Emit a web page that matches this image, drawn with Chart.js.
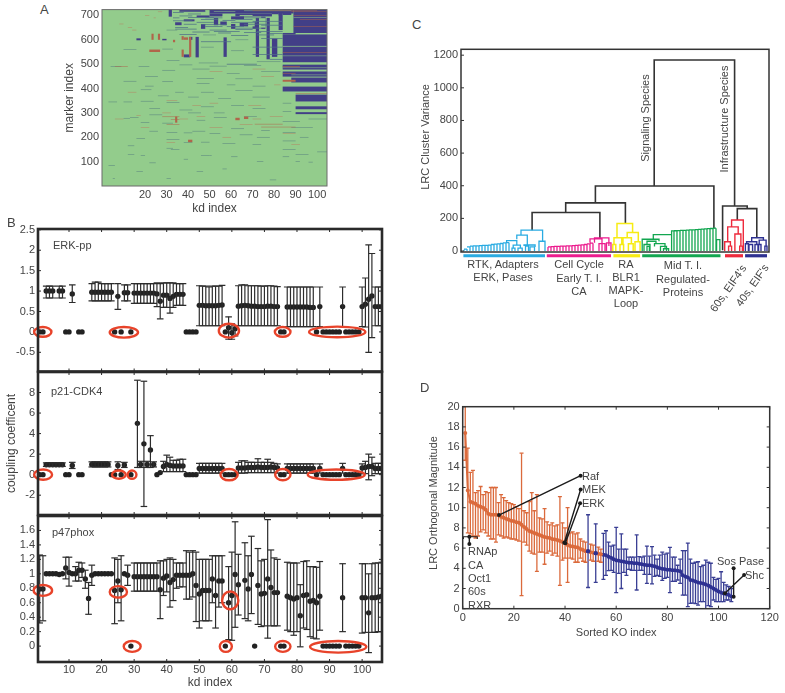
<!DOCTYPE html>
<html>
<head>
<meta charset="utf-8">
<title>Coupling figure</title>
<script src="https://cdn.jsdelivr.net/npm/chart.js@4"></script>
<style>
    html, body { margin: 0; padding: 0; background: #fff; }
    #page { position: relative; width: 785px; height: 693px; overflow: hidden; font-family: "Liberation Sans", Arial, sans-serif; color: #444; }
    canvas { position: absolute; }
    .txt { position: absolute; white-space: nowrap; font-size: 11px; line-height: 14px; transform: translate(0, -50%); }
    .mid { transform: translate(-50%, -50%); text-align: center; }
    .up { transform: translate(-50%, -50%) rotate(-90deg); }
    .slant { transform: translate(-50%, -50%) rotate(-55deg); }
</style>
</head>
<body>
<div id="page"></div>
<script>
// ===== Panel A: heat map blocks, [x1, x2, y1, y2] =====
const aXTicks = [20, 30, 40, 50, 60, 70, 80, 90, 100];
const aYTicks = [100, 200, 300, 400, 500, 600, 700];
const heatNavy = [
    [89, 105, 628, 725], [84, 105, 508, 622], [84, 105, 478, 498], [84, 105, 449, 470],
    [88, 105, 425, 445], [84, 105, 388, 408], [90, 105, 347, 375], [90, 105, 315, 327],
    [90, 105, 295, 303], [84, 90, 622, 628], [50, 89, 708, 725], [62, 79, 696, 708],
    [82, 84, 640, 712], [71.5, 73, 530, 690], [76.5, 78, 520, 690], [79, 81.5, 530, 605],
    [43.5, 45, 528, 612], [56.5, 58, 530, 610], [40.5, 42, 600, 612], [60, 66, 684, 696],
    [50, 56, 696, 708], [44, 50, 692, 700], [38, 43, 676, 684], [34, 37, 660, 672],
    [31, 32.5, 695, 725], [36, 48, 714, 722], [46, 48, 645, 665], [52, 54, 660, 690],
    [64, 68, 655, 670], [70, 72, 645, 675], [60, 62, 645, 665], [55, 58, 660, 675],
    [74, 76, 645, 695], [84, 88, 702, 725], [79, 82, 705, 725], [16, 18, 598, 606],
    [28, 30, 598, 604], [38, 41, 528, 540]
];
const heatLight = [
    [79.2, 82, 632, 700], [84.2, 88.4, 632, 695], [89, 105, 690, 692], [84, 105, 572, 575],
    [84, 105, 533, 535], [88, 105, 455, 457], [92, 105, 415, 418], [84, 105, 484, 486],
    [64, 70, 698, 702], [73, 76, 650, 690], [68, 71, 655, 690], [44, 46, 650, 680],
    [56, 60, 690, 696], [52, 62, 716, 718], [66, 88, 718, 720], [36, 48, 717, 718]
];
const heatRed = [
    [84, 90, 428, 436], [88, 105, 714, 716], [89, 105, 700, 702], [92, 105, 683, 685],
    [89, 105, 654, 656], [84, 105, 548, 550], [90, 105, 378, 380], [84, 92, 488, 491],
    [84, 90, 460, 462], [70, 100, 718, 720], [37, 38, 530, 560], [37, 38, 600, 615],
    [40.5, 41.5, 530, 612], [38, 40, 600, 610], [23, 24, 600, 625], [26, 27, 600, 625],
    [33, 34, 590, 600], [30, 36, 252, 254], [32, 36, 272, 274], [62, 64, 270, 280],
    [34, 35, 260, 285], [28, 36, 283, 285], [74, 90, 241, 243], [71, 84, 253, 255],
    [66, 68, 275, 285], [22, 27, 550, 560], [40, 42, 180, 190], [6, 12, 490, 492]
];
// thin streaks, [x1, x2, y]
const streakBlue = [
    [3, 7, 345], [10, 14, 345], [18, 24, 348], [30, 36, 342], [46, 52, 325], [60, 66, 330],
    [40, 46, 300], [22, 28, 292], [13, 17, 282], [18, 22, 260], [28, 33, 258], [44, 48, 270],
    [52, 58, 282], [66, 72, 285], [42, 48, 225], [38, 42, 218], [38, 42, 178], [30, 33, 155],
    [12, 15, 130], [38, 40, 110], [46, 50, 125], [56, 58, 70], [3, 6, 85], [5, 6, 30],
    [78, 81, 25], [70, 74, 170], [64, 70, 210], [72, 78, 200], [84, 90, 185], [92, 96, 200],
    [84, 90, 150], [90, 96, 130], [100, 105, 140], [84, 92, 265], [88, 98, 240], [96, 105, 275],
    [36, 42, 497], [50, 58, 492], [66, 74, 495], [45, 54, 505], [72, 83, 510], [30, 36, 515],
    [17, 22, 490], [4, 9, 490], [28, 34, 475], [42, 50, 480], [58, 64, 462], [74, 83, 470],
    [20, 26, 450], [44, 52, 442], [62, 70, 440], [10, 16, 430], [28, 33, 428], [44, 50, 420],
    [58, 62, 415], [70, 76, 410], [18, 23, 395], [34, 38, 385], [46, 52, 385], [62, 70, 392],
    [20, 24, 410], [26, 31, 370], [40, 45, 365], [54, 60, 360], [70, 78, 365], [22, 27, 318],
    [36, 42, 312], [52, 57, 300], [70, 76, 318], [84, 88, 340], [84, 88, 305], [10, 13, 278],
    [60, 66, 235], [74, 78, 228], [84, 90, 220], [22, 26, 225], [30, 35, 220], [50, 55, 215],
    [16, 20, 195], [30, 36, 190], [46, 50, 180], [56, 62, 175], [12, 15, 165], [18, 20, 125],
    [50, 51, 125], [32, 36, 150], [22, 25, 95], [44, 47, 60], [16, 19, 60], [30, 32, 30],
    [60, 63, 120], [72, 75, 100], [90, 92, 100], [96, 98, 98], [84, 87, 120], [46, 52, 570],
    [60, 66, 555], [28, 33, 562], [10, 16, 560], [62, 68, 600], [47, 53, 620], [30, 35, 640]
];
const streakRed = [
    [12, 14, 650], [20, 22, 700], [26, 28, 715], [24, 25, 690], [8, 10, 665], [14, 16, 640],
    [50, 54, 340], [28, 32, 300], [36, 40, 275], [44, 48, 285], [70, 74, 275], [78, 84, 285],
    [6, 10, 275], [16, 18, 290], [50, 56, 240], [64, 70, 252], [84, 90, 215], [88, 92, 170],
    [30, 34, 178], [18, 22, 240], [56, 60, 200], [42, 46, 330], [68, 74, 330], [30, 35, 350],
    [74, 80, 450], [50, 56, 470], [80, 83, 415], [70, 76, 480], [12, 16, 385]
];
// dark rows of the busy upper area, [x1, x2, y]
const streakNavy = [
    [33, 38, 712], [40, 46, 706], [48, 56, 690], [36, 42, 698], [33, 36, 690], [34, 40, 650],
    [38, 44, 664], [44, 52, 672], [46, 54, 684], [56, 62, 680], [58, 66, 654], [62, 70, 642],
    [66, 74, 630], [72, 80, 620], [78, 84, 626], [50, 58, 640], [42, 50, 632], [36, 44, 622],
    [54, 60, 628], [60, 68, 618], [48, 56, 654], [66, 78, 664], [70, 84, 676], [62, 70, 684],
    [74, 84, 606], [58, 72, 500], [78, 84, 520], [70, 84, 540], [70, 84, 570], [46, 60, 592],
    [34, 44, 644], [46, 58, 662], [60, 72, 672], [62, 74, 648], [66, 76, 690], [72, 84, 634],
    [40, 52, 692], [52, 64, 634], [74, 84, 660], [33, 42, 678]
];

// ===== Panel B: x is the kd index 1..106 =====
const bXTicks = [10, 20, 30, 40, 50, 60, 70, 80, 90, 100];
const erkTicks = [-0.5, 0, 0.5, 1, 1.5, 2, 2.5];
const p21Ticks = [-2, 0, 2, 4, 6, 8];
const p47Ticks = [0, 0.2, 0.4, 0.6, 0.8, 1, 1.2, 1.4, 1.6];
const n = null;
const erkMean = [
    0, 0, 1, 1, 1, n, 1, 1, 0, 0,
    .93, n, 0, 0, n, n, .97, .97, .97, .97,
    .97, .97, .97, 0, .87, 0, .96, .96, 0, .95,
    .95, .95, .95, .95, .95, .95, .93, .75, .9, .9,
    .82, .87, .92, .92, .92, 0, 0, 0, 0, .65,
    .65, .64, .64, .64, .64, .65, .66, 0, .1, -.02,
    .08, .63, .64, .65, .64, .63, .63, .62, .62, .62,
    .63, .63, .62, .62, 0, 0, .61, .61, .61, .61,
    .61, .61, .61, .6, .6, 0, .62, 0, 0, 0,
    0, 0, 0, .62, 0, 0, 0, 0, 0, .62,
    .68, .8, .88, .62, .62, .62
];
const erkLow = [
    n, n, .83, .83, .83, n, .83, .83, n, n,
    .72, n, n, n, n, n, .76, .76, .76, .76,
    .76, .76, .76, n, .55, n, .76, .76, n, .7,
    .7, .7, .7, .7, .7, .7, .62, .32, .6, .6,
    .46, .6, .65, .65, .65, n, n, n, n, .15,
    .15, .15, .15, .15, .15, .15, .15, n, -.18, -.18,
    -.1, .15, .15, .15, .15, .15, .15, .15, .15, .15,
    .15, .15, .15, .15, n, n, .13, .13, .13, .13,
    .13, .13, .13, .13, .13, n, .13, n, n, n,
    n, n, n, .13, n, n, n, n, n, .13,
    .12, -.5, -.14, .15, .15, .15
];
const erkHigh = [
    n, n, 1.12, 1.12, 1.12, n, 1.12, 1.12, n, n,
    1.15, n, n, n, n, n, 1.18, 1.22, 1.22, 1.18,
    1.18, 1.18, 1.18, n, 1.18, n, 1.15, 1.15, n, 1.18,
    1.18, 1.18, 1.18, 1.18, 1.18, 1.18, 1.2, 1.18, 1.2, 1.2,
    1.2, 1.2, 1.18, 1.18, 1.18, n, n, n, n, 1.13,
    1.12, 1.12, 1.1, 1.12, 1.12, 1.12, 1.14, n, .37, .2,
    .15, 1.13, 1.15, 1.15, 1.13, 1.13, 1.13, 1.13, 1.12, 1.12,
    1.13, 1.13, 1.12, 1.11, n, n, 1.1, 1.1, 1.1, 1.1,
    1.1, 1.1, 1.1, 1.1, 1.1, n, 1.1, n, n, n,
    n, n, n, 1.1, n, n, n, n, n, 1.1,
    1.32, 2.13, 1.92, 1.1, 1.1, 1.1
];
const p21Mean = [
    0, 0, .97, .97, .97, .97, .97, .97, 0, 0,
    .9, n, 0, 0, n, n, 1, 1, 1, 1,
    1, 1, 0, 0, .9, 0, .95, n, 0, n,
    5, 1, 3, 1, 2.4, 1, 0, .2, .8, 1,
    .9, .85, .85, .85, .85, 0, 0, 0, 0, .6,
    .6, .6, .6, .6, .6, .6, .6, 0, 0, 0,
    0, .65, .65, .65, .7, .7, .7, .75, .7, .7,
    .7, .75, .7, .65, 0, 0, .6, .6, .6, .6,
    .6, .6, .6, .6, .6, 0, .6, 0, 0, 0,
    0, 0, 0, .6, 0, 0, 0, 0, 0, .65,
    .7, .8, .8, .6, .6, .6
];
const p21Low = [
    n, n, .8, .8, .8, .8, .8, .8, n, n,
    .6, n, n, n, n, n, .75, .75, .75, .75,
    .75, .75, n, n, .5, n, .7, n, n, n,
    .7, .7, -3.1, .7, .7, .75, n, n, .3, .3,
    .3, .3, .3, .3, .3, n, n, n, n, .15,
    .15, .15, .15, .15, .15, .15, .15, n, n, n,
    n, .15, .15, .15, .2, .2, .2, .2, .2, .2,
    .2, .2, .2, .15, n, n, .15, .15, .15, .15,
    .15, .15, .15, .15, .15, n, .15, n, n, n,
    n, n, n, .15, n, n, n, n, n, .1,
    .1, -.5, -.1, .1, .1, .1
];
const p21High = [
    n, n, 1.15, 1.15, 1.15, 1.15, 1.15, 1.15, n, n,
    1.2, n, n, n, n, n, 1.25, 1.25, 1.25, 1.25,
    1.25, 1.25, n, n, 1.25, n, 1.2, n, n, n,
    9.2, 1.3, 9.1, 1.3, 3.8, 1.25, n, n, 1.3, 1.9,
    1.7, 1.4, 1.4, 1.5, 1.5, n, n, n, n, 1.1,
    1.1, 1.1, 1.1, 1.1, 1.1, 1.1, 1.1, n, n, n,
    n, 1.2, 1.35, 1.35, 1.2, 1.2, 1.2, 1.55, 1.2, 1.2,
    1.5, 1.2, 1.1, 1.05, n, n, 1.05, 1.05, 1.05, 1.05,
    1.05, 1.05, 1.05, 1.05, 1.05, n, 1.05, n, n, n,
    n, n, n, 1.1, n, n, n, n, n, 1.05,
    1.3, 2, 1.7, 1.1, 1.1, 1.1
];
const p47Mean = [
    .79, .79, 1, 1, 1, 1, .99, 1, 1.08, 1.02,
    1, 1, 1.05, 1.05, .93, .66, .98, 1, 1, 1,
    1, 1, 1, .77, .9, .78, 1, .98, 0, .96,
    .96, .96, .96, .96, .96, .96, .96, .78, .94, .97,
    .88, .92, .98, .98, .98, .98, .98, 1, .84, .72,
    .77, .77, .77, .93, .7, .9, .9, 0, .6, .7,
    .99, .85, n, .91, .79, .99, 0, .84, .72, .73,
    .93, .81, .74, .74, 0, 0, .69, .67, .65, .67,
    .42, .7, .71, .62, .63, .6, .69, 0, 0, 0,
    0, 0, 0, .67, 0, 0, 0, 0, 0, .67,
    .67, .46, .67, .67, .68, .69
];
const p47Low = [
    .32, .35, n, n, n, n, n, n, .93, .83,
    n, .9, .9, .95, .8, .44, .84, n, n, n,
    n, n, n, .31, .6, .35, n, .84, n, .76,
    .76, .76, .76, .76, .76, .76, .76, .38, .7, .75,
    .54, .63, .8, .82, .82, .65, .65, .68, .34, .25,
    .35, .35, .35, .6, .25, .54, .6, n, .09, .08,
    .26, .43, n, .38, .35, .45, n, .3, .27, .28,
    .11, .28, .28, .28, n, n, .22, .2, .15, .2,
    -.01, .25, .23, .13, .11, .1, .22, n, n, n,
    n, n, n, .2, n, n, n, n, n, .18,
    .19, -.09, .19, .19, .2, .2
];
const p47High = [
    1.26, 1.25, n, n, n, n, n, n, 1.23, 1.23,
    n, 1.1, 1.16, 1.15, 1.05, .88, 1.12, n, n, n,
    n, n, n, 1.22, 1.2, 1.25, n, 1.12, n, 1.15,
    1.15, 1.15, 1.15, 1.15, 1.15, 1.15, 1.15, 1.18, 1.18, 1.2,
    1.22, 1.2, 1.15, 1.15, 1.15, 1.32, 1.3, 1.32, 1.3, 1.2,
    1.2, 1.2, 1.2, 1.25, 1.25, 1.25, 1.25, n, 1.1, 1.3,
    1.72, 1.27, n, 1.43, 1.25, 1.52, n, 1.35, 1.18, 1.2,
    1.75, 1.33, 1.22, 1.2, n, n, 1.16, 1.15, 1.15, 1.15,
    .85, 1.17, 1.18, 1.1, 1.1, 1.09, 1.17, n, n, n,
    n, n, n, 1.14, n, n, n, n, n, 1.14,
    1.14, 1, 1.14, 1.15, 1.15, 1.16
];
// red rings, [x1, x2, y1, y2]
const erkRings = [[-.7, 4.6, -.12, .12], [22.5, 31.2, -.14, .12], [56, 62.2, -.14, .2], [73.2, 78, -.12, .12], [83.7, 101, -.13, .13]];
const p21Rings = [[-.7, 4.8, -.5, .5], [23.2, 27.4, -.4, .4], [28, 30.7, -.4, .4], [56.5, 61.8, -.55, .55], [73.3, 78, -.55, .55], [83.3, 100.8, -.5, .5]];
const p47Rings = [[-.85, 4.8, .695, .845], [22.5, 27.8, .67, .83], [26.8, 32, -.08, .07], [56.3, 60, -.08, .07], [57, 62, .51, .755], [73.3, 78, -.08, .07], [84, 101.3, -.09, .07]];

// ===== Panel C: dendrogram merges, [xLeft, xRight, height, leftFoot, rightFoot] =====
const cYTicks = [0, 200, 400, 600, 800, 1000, 1200];
const blackNodes = [[64.4, 91.2, 1170, 398, 276], [44.8, 84.3, 398, 295, 138], [34.9, 54.8, 295, 236, 169], [23.7, 46.3, 236, 128, 80], [87.2, 95.4, 276, 4, 260], [92.1, 98.6, 260, 190, 81]];
const blueNodes = [[20, 27.2, 128, 97, 60], [18.6, 22.1, 97, 72, 36], [15.2, 18.6, 64, 52, 36], [17.4, 19.8, 36, 18, 18], [21, 24.7, 37, 30, 25], [26, 28, 60, 0, 0], [17, 18, 18, 0, 0], [19, 20.4, 18, 0, 0], [21.5, 22.5, 30, 0, 0], [23, 24.5, 25, 0, 0]];
const blueHeights = [8, 12, 26, 30, 32, 32, 33, 34, 35, 36, 40, 42, 44, 46, 50, 52];
const magentaNodes = [[44.5, 49.3, 80, 50, 30], [43, 47, 75, 50, 0], [46, 48, 45, 0, 0], [48.5, 50, 50, 0, 0]];
const magentaHeights = [24, 26, 27, 28, 29, 30, 30, 31, 32, 33, 34, 36, 38, 40, 44, 48];
const yellowNodes = [[52, 57.2, 169, 81, 114], [51, 53.6, 81, 40, 40], [55.4, 59.1, 114, 81, 57], [54, 56.8, 81, 40, 45], [58, 59.7, 57, 0, 0], [50.6, 51.6, 40, 0, 0], [53, 54.2, 40, 0, 0], [55.8, 57.4, 45, 0, 0]];
const greenNodes = [[64.1, 70.2, 100, 72, 0], [70.2, 72, 124, 0, 0], [60.4, 66, 72, 0, 60], [62, 65, 60, 40, 45], [61, 63, 40, 0, 0], [64.5, 68, 45, 28, 20], [66.5, 68.5, 28, 0, 0], [67.5, 69.2, 14, 0, 0], [62, 62.8, 28, 0, 0], [85.2, 86.3, 70, 0, 0]];
const greenHeights = [124, 125, 125, 126, 127, 128, 129, 130, 131, 133, 134, 136, 137, 138, 140];
const redNodes = [[90.2, 94.1, 190, 148, 0], [88.9, 92.4, 148, 57, 104], [87.9, 89.8, 57, 0, 30], [89.2, 90.2, 30, 0, 0], [91.3, 93.3, 104, 0, 30], [92.9, 93.8, 30, 0, 0]];
const navyNodes = [[96.9, 100.8, 81, 57, 67], [95.2, 98.6, 57, 45, 40], [94.8, 95.8, 45, 0, 0], [96, 97.2, 40, 0, 0], [98, 99.2, 40, 0, 0], [99.4, 101.7, 67, 40, 30], [99, 100, 40, 0, 0], [101.3, 102, 30, 0, 0]];
// coloured strips under the axis, [x1, x2]
const stripRanges = [[.8, 28], [28.6, 50], [50.8, 59.7], [60.4, 86.5], [88, 94], [94.7, 102]];

// ===== Panel D: x is the sorted KO index 1..105 =====
const dXTicks = [0, 20, 40, 60, 80, 100, 120];
const dYTicks = [0, 2, 4, 6, 8, 10, 12, 14, 16, 18, 20];
const koMean = [
    17.4, 11.7, 10.6, 10.5, 10.4, 10.2, 10.1, 10, 9.8, 9.4,
    9.3, 9.3, 9.3, 9.25, 9.1, 9, 8.9, 8.8, 8.7, 8.65,
    8.55, 8.5, 8.3, 8.1, 7.9, 7.7, 7.6, 7.5, 7.4, 7.3,
    7.2, 7.1, 7.05, 7, 6.9, 6.85, 6.8, 6.7, 6.6, 6.5,
    6.3, 6.2, 6.15, 6.1, 6.05, 5.9, 5.8, 5.7, 5.7, 5.6,
    5.55, 5.5, 5.45, 5.4, 5.35, 5.3, 5.15, 5.05, 4.9, 4.8,
    4.75, 4.7, 4.65, 4.6, 4.55, 4.55, 4.5, 4.5, 4.45, 4.4,
    4.35, 4.3, 4.3, 4.25, 4.2, 4.1, 4, 3.95, 3.9, 3.85,
    3.85, 3.8, 3.8, 3.75, 3.7, 3.3, 3.2, 3.1, 2.85, 2.8,
    2.7, 2.6, 2.55, 2.5, 2.4, 2.3, 2.15, 2, 1.85, 1.7,
    1.6, 1.5, 1.45, 1.35, 1.2
];
const koLow = [
    14.7, 7.5, 7.4, 7.2, 7, 7.2, 7.6, 7.8, 7.5, 7.2,
    6.9, 6.9, 6.6, 7.3, 7.2, 7, 7.1, 7, 6.9, 6.9,
    6.8, 6.7, 1.3, 6.6, 6.3, 5.7, 5.5, 5.4, 3.7, 5.6,
    5.6, 4.4, 5.5, 5.7, 5.3, 5.5, 5.2, 2.3, 4.8, 5,
    2.6, 5, 4.9, 4.6, 4.6, 5, 4.7, 4.6, 2.1, 4.8,
    4.7, 2.6, 4.7, 4.6, 2.9, 3.3, 3.76, 3.8, 3.6, 1.6,
    3.5, 2, 3.6, 3.3, 3.9, 3.8, 3.8, 1.85, 3.8, 3.8,
    3.4, 2.5, 3.4, 2.45, 3.2, 3.3, 3.2, 2.8, 3, 3.1,
    1.6, 2.7, 2.7, 2.84, 2.5, 1.35, 1.35, .2, .53, .55,
    .5, .36, .7, .7, 0, .3, .2, .86, .7, .7,
    .7, .7, .86, .86, .7
];
const koHigh = [
    20.5, 15.9, 13.5, 13.7, 11.5, 11.7, 12.1, 11.3, 11.6, 11.5,
    12, 12, 12, 10.5, 11.3, 11, 10.7, 10.5, 10.4, 10.3,
    10.1, 9.9, 15.4, 9.7, 9.5, 10.6, 11.5, 9.7, 11.3, 9,
    8.9, 9.9, 8.6, 8.3, 8.5, 8.2, 8.3, 11.1, 8.5, 8,
    10, 7.5, 7.6, 7.4, 7.5, 6.9, 6.7, 6.6, 9.3, 6.4,
    6.3, 8.4, 6.1, 5.9, 7.46, 7.72, 6.6, 6.2, 6.3, 8.05,
    5.9, 7.4, 5.9, 5.9, 5.1, 5.1, 5.1, 7.3, 5.15, 5.1,
    5.2, 6.2, 5.2, 6.15, 5.3, 4.9, 5.3, 5.6, 5.4, 5.5,
    6.07, 5.1, 5.1, 4.3, 4.9, 5.75, 5.75, 6.5, 4.9, 4.5,
    4.6, 4.65, 4.16, 4.3, 4.8, 4.6, 4.5, 3.1, 2.9, 3,
    3.66, 2.6, 2.35, 2.2, 2
];
const koBlueInOrange = [49, 52];
const firstBlueKo = 55;
// callout lines, [x1, y1, x2, y2]
const koCallouts = [
    [14.2, 9.27, 46.1, 13.17], [39.7, 6.53, 46.1, 11.8], [40.1, 6.47, 45.9, 10.43],
    [2.6, 7.13, 2.6, 6.4], [105.9, 4, 105.9, 1.19], [110, 3.33, 102.5, 1.52]
];
const koBracket = [[.3, 6.9], [.3, 7.13], [5.7, 7.13], [5.7, 6.9]];

// ===== Helpers =====
const page = document.getElementById('page');
const textColor = '#444';
const tickFont = { family: '"Liberation Sans", Arial, sans-serif', size: 11 };

// vertical error bars as one broken line plus caps
function errorBars(xs, lows, highs, color, width, capSize) {
    const stems = [], caps = [];
    xs.forEach((x, i) => {
        if (lows[i] === null || highs[i] === null) return;
        stems.push({ x: x, y: lows[i] }, { x: x, y: highs[i] }, { x: x, y: null });
        caps.push({ x: x, y: lows[i] }, { x: x, y: highs[i] });
    });
    return [
        { data: stems, showLine: true, borderColor: color, borderWidth: width, pointRadius: 0, spanGaps: false },
        { data: caps, pointStyle: 'line', pointRadius: capSize, pointBorderColor: color, pointBorderWidth: width, pointBackgroundColor: color }
    ];
}

// U shapes of a dendrogram, and the rising comb of leaves
function dendroLine(nodes, heights, firstLeaf, color, width) {
    const pts = [];
    nodes.forEach(m => {
        pts.push({ x: m[0], y: m[3] }, { x: m[0], y: m[2] }, { x: m[1], y: m[2] }, { x: m[1], y: m[4] }, { x: m[1], y: null });
    });
    heights.forEach((h, i) => {
        const x = firstLeaf + i;
        if (i > 0) pts.push({ x: x - 1, y: h }, { x: x, y: h }, { x: x, y: null });
        pts.push({ x: x, y: 0 }, { x: x, y: h }, { x: x, y: null });
    });
    return { data: pts, showLine: true, borderColor: color, borderWidth: width, pointRadius: 0, spanGaps: false };
}

function makeChart(box, datasets, xAxis, yAxis, frame, extraPlugins) {
    const canvas = document.createElement('canvas');
    const w = box.right - box.left, h = box.bottom - box.top;
    canvas.style.left = box.left + 'px';
    canvas.style.top = box.top + 'px';
    canvas.width = w;
    canvas.height = h;
    canvas.style.width = w + 'px';
    canvas.style.height = h + 'px';
    page.appendChild(canvas);

    function axis(spec, fit) {
        return {
            type: 'linear',
            min: spec.min,
            max: spec.max,
            grid: { display: false, drawTicks: false, tickLength: 0 },
            border: { display: false },
            afterBuildTicks: s => { s.ticks = spec.ticks.map(v => ({ value: v })); },
            afterFit: fit,
            ticks: {
                display: spec.labels !== false,
                autoSkip: false,
                maxRotation: 0,
                padding: spec.pad === undefined ? 3 : spec.pad,
                color: textColor,
                font: tickFont,
                callback: v => String(v)
            },
            title: spec.title ? {
                display: true, text: spec.title, color: textColor, padding: 0,
                font: { family: tickFont.family, size: spec.titleSize || 12 }
            } : { display: false }
        };
    }

    // frame and inward ticks on all four sides
    const boxPlugin = {
        id: 'boxFrame',
        afterDraw(chart) {
            const a = chart.chartArea, c = chart.ctx;
            c.save();
            c.strokeStyle = frame.color;
            c.lineWidth = frame.tickWidth;
            c.beginPath();
            chart.scales.x.ticks.forEach(t => {
                const p = chart.scales.x.getPixelForValue(t.value);
                c.moveTo(p, a.bottom); c.lineTo(p, a.bottom - frame.tick);
                if (frame.allSides) { c.moveTo(p, a.top); c.lineTo(p, a.top + frame.tick); }
            });
            chart.scales.y.ticks.forEach(t => {
                const p = chart.scales.y.getPixelForValue(t.value);
                c.moveTo(a.left, p); c.lineTo(a.left + frame.tick, p);
                if (frame.allSides) { c.moveTo(a.right, p); c.lineTo(a.right - frame.tick, p); }
            });
            if (frame.tick) c.stroke();
            c.lineWidth = frame.width;
            c.strokeRect(a.left, a.top, a.right - a.left, a.bottom - a.top);
            c.restore();
        }
    };

    return new Chart(canvas, {
        type: 'scatter',
        data: { datasets: datasets },
        options: {
            responsive: false,
            animation: false,
            events: [],
            layout: {
                autoPadding: false,
                padding: { top: box.plotTop - box.top, right: box.right - box.plotRight, left: 0, bottom: 0 }
            },
            plugins: { legend: { display: false }, tooltip: { enabled: false }, title: { display: false } },
            scales: {
                x: axis(xAxis, s => { s.height = box.bottom - box.plotBottom; }),
                y: axis(yAxis, s => { s.width = box.plotLeft - box.left; })
            }
        },
        plugins: [boxPlugin].concat(extraPlugins || [])
    });
}

function ringPlugin(rings) {
    return {
        id: 'rings',
        afterDatasetsDraw(chart) {
            const c = chart.ctx, sx = chart.scales.x, sy = chart.scales.y;
            c.save();
            c.strokeStyle = '#E8432A';
            c.lineWidth = 2.4;
            rings.forEach(r => {
                const x1 = sx.getPixelForValue(r[0]), x2 = sx.getPixelForValue(r[1]);
                const y1 = sy.getPixelForValue(r[2]), y2 = sy.getPixelForValue(r[3]);
                c.beginPath();
                c.ellipse((x1 + x2) / 2, (y1 + y2) / 2, Math.abs(x2 - x1) / 2, Math.abs(y2 - y1) / 2, 0, 0, Math.PI * 2);
                c.stroke();
            });
            c.restore();
        }
    };
}

function addText(text, x, y, cls, size) {
    const el = document.createElement('div');
    el.className = 'txt ' + (cls || '');
    el.textContent = text;
    el.style.left = x + 'px';
    el.style.top = y + 'px';
    if (size) el.style.fontSize = size + 'px';
    page.appendChild(el);
}

// ===== Panel A =====
const heatPlugin = {
    id: 'heat',
    beforeDatasetsDraw(chart) {
        const c = chart.ctx, sx = chart.scales.x, sy = chart.scales.y, a = chart.chartArea;
        const block = r => {
            const x1 = sx.getPixelForValue(r[0]), x2 = sx.getPixelForValue(r[1]);
            const y1 = sy.getPixelForValue(r[2]), y2 = sy.getPixelForValue(r[3]);
            c.fillRect(x1, y2, x2 - x1, y1 - y2);
        };
        c.save();
        c.beginPath();
        c.rect(a.left, a.top, a.right - a.left, a.bottom - a.top);
        c.clip();
        c.fillStyle = '#93CC8C';
        c.fillRect(a.left, a.top, a.right - a.left, a.bottom - a.top);
        c.fillStyle = '#423F87';
        heatNavy.forEach(block);
        c.fillStyle = '#93CC8C';
        heatLight.forEach(block);
        c.fillStyle = '#4F6F88';
        streakNavy.forEach(s => block([s[0], s[1], s[2] - 1.5, s[2] + 1.5]));
        c.fillStyle = '#5F8A80';
        streakBlue.forEach(s => block([s[0], s[1], s[2] - 1.2, s[2] + 1.2]));
        c.fillStyle = '#B0654A';
        heatRed.forEach(block);
        c.fillStyle = '#B08E68';
        streakRed.forEach(s => block([s[0], s[1], s[2] - 1.2, s[2] + 1.2]));
        c.restore();
    }
};
makeChart(
    { left: 62, top: 0, right: 345, bottom: 216, plotLeft: 102, plotTop: 7, plotRight: 327, plotBottom: 186 },
    [],
    { min: 0, max: 104.6, ticks: aXTicks, title: 'kd index', pad: 2 },
    { min: 0, max: 724, ticks: aYTicks, title: 'marker index', pad: 3 },
    { color: '#6b6b6b', width: 1, tick: 0, tickWidth: 0, allSides: false },
    [heatPlugin]
);

// ===== Panel B =====
const kdIndex = erkMean.map((v, i) => i + 1);
const bFrame = { color: '#2a2a2a', width: 2.6, tick: 3, tickWidth: 1, allSides: true };

function bSeries(mean, low, high) {
    const dots = kdIndex.map((x, i) => ({ x: x, y: mean[i] })).filter(p => p.y !== null);
    return errorBars(kdIndex, low, high, '#2c2c2c', 1.2, 3.3).concat([
        { data: dots, pointRadius: 2.7, pointBackgroundColor: '#222', pointBorderWidth: 0 }
    ]);
}

makeChart(
    { left: 4, top: 210, right: 400, bottom: 392, plotLeft: 38, plotTop: 229, plotRight: 382, plotBottom: 371.5 },
    bSeries(erkMean, erkLow, erkHigh),
    { min: .48, max: 106.1, ticks: bXTicks, labels: false },
    { min: -.97, max: 2.52, ticks: erkTicks, pad: 3 },
    bFrame, [ringPlugin(erkRings)]
);
makeChart(
    { left: 4, top: 352, right: 400, bottom: 535, plotLeft: 38, plotTop: 372, plotRight: 382, plotBottom: 515 },
    bSeries(p21Mean, p21Low, p21High),
    { min: .48, max: 106.1, ticks: bXTicks, labels: false },
    { min: -3.93, max: 10, ticks: p21Ticks, title: 'coupling coefficent', pad: 3 },
    bFrame, [ringPlugin(p21Rings)]
);
makeChart(
    { left: 4, top: 496, right: 400, bottom: 690, plotLeft: 38, plotTop: 516, plotRight: 382, plotBottom: 662 },
    bSeries(p47Mean, p47Low, p47High),
    { min: .48, max: 106.1, ticks: bXTicks, title: 'kd index', pad: 1 },
    { min: -.22, max: 1.8, ticks: p47Ticks, pad: 3 },
    bFrame, [ringPlugin(p47Rings)]
);

// ===== Panel C =====
const stripColors = ['#29ABE2', '#EC1C8E', '#F7EC13', '#12A650', '#EE2A3C', '#2E3192'];
const stripSets = stripRanges.map((r, i) => ({
    data: [{ x: r[0], y: -29 }, { x: r[1], y: -29 }],
    showLine: true, clip: false, borderColor: stripColors[i], borderWidth: 3.2, pointRadius: 0
}));
makeChart(
    { left: 430, top: 28, right: 785, bottom: 272, plotLeft: 461, plotTop: 49.3, plotRight: 769, plotBottom: 252 },
    [
        dendroLine(blueNodes, blueHeights, 1, '#29ABE2', 1.3),
        dendroLine(magentaNodes, magentaHeights, 29, '#EC1C8E', 1.3),
        dendroLine(yellowNodes, [], 0, '#F7EC13', 1.5),
        dendroLine(greenNodes, greenHeights, 71, '#12A650', 1.3),
        dendroLine(redNodes, [], 0, '#EE2A3C', 1.4),
        dendroLine(navyNodes, [], 0, '#2E3192', 1.4),
        dendroLine(blackNodes, [], 0, '#333', 1.6)
    ].concat(stripSets),
    { min: 0, max: 102.67, ticks: [], labels: false },
    { min: -6, max: 1236, ticks: cYTicks, pad: 3 },
    { color: '#333', width: 1.5, tick: 3, tickWidth: 1, allSides: false }
);

// ===== Panel D =====
const koIndex = koMean.map((v, i) => i + 1);
const isBlueKo = x => x >= firstBlueKo || koBlueInOrange.includes(x);
const koDots = koIndex.map((x, i) => ({ x: x, y: koMean[i] }));
const calloutPts = [];
const calloutEnds = [];
koCallouts.forEach(l => {
    calloutPts.push({ x: l[0], y: l[1] }, { x: l[2], y: l[3] }, { x: l[2], y: null });
    calloutEnds.push({ x: l[0], y: l[1] }, { x: l[2], y: l[3] });
});
makeChart(
    { left: 425, top: 388, right: 785, bottom: 640, plotLeft: 462.7, plotTop: 406.7, plotRight: 769.7, plotBottom: 608.7 },
    errorBars(koIndex, koLow.map((v, i) => isBlueKo(i + 1) ? null : v), koHigh, '#DB6A3C', 1.3, 2)
        .concat(errorBars(koIndex, koLow.map((v, i) => isBlueKo(i + 1) ? v : null), koHigh, '#3A3F94', 1.3, 2))
        .concat([
            { data: koDots.filter(p => p.x < firstBlueKo), showLine: true, borderColor: '#DB6A3C', borderWidth: 2, pointRadius: 2, pointBackgroundColor: '#DB6A3C', pointBorderWidth: 0, order: -1 },
            { data: koDots.filter(p => p.x >= firstBlueKo), showLine: true, borderColor: '#2E3192', borderWidth: 2, pointRadius: 2, pointBackgroundColor: '#2E3192', pointBorderWidth: 0, order: -1 },
            { data: koDots.filter(p => koBlueInOrange.includes(p.x)), pointRadius: 2.2, pointBackgroundColor: '#2E3192', pointBorderWidth: 0, order: -2 },
            { data: calloutPts, showLine: true, borderColor: '#1c1c1c', borderWidth: 1.4, pointRadius: 0, spanGaps: false, order: -3 },
            { data: calloutEnds, pointRadius: 2, pointBackgroundColor: '#1c1c1c', pointBorderWidth: 0, order: -3 },
            { data: koBracket.map(p => ({ x: p[0], y: p[1] })), showLine: true, borderColor: '#1c1c1c', borderWidth: 1.1, pointRadius: 0, order: -3 }
        ]),
    { min: 0, max: 120, ticks: dXTicks, title: 'Sorted KO index', titleSize: 11, pad: 3 },
    { min: 0, max: 20, ticks: dYTicks, pad: 3 },
    { color: '#333', width: 1.5, tick: 3, tickWidth: 1, allSides: true }
);

// ===== Labels =====
addText('A', 40, 10, '', 13);
addText('B', 7, 223, '', 13);
addText('C', 412, 25, '', 13);
addText('D', 420, 388, '', 13);

addText('ERK-pp', 53, 245);
addText('p21-CDK4', 51, 391);
addText('p47phox', 52, 532);

addText('LRC Cluster Variance', 425, 137, 'up');
addText('Signaling Species', 645, 118, 'up');
addText('Infrastructure Species', 724, 119, 'up');
addText('RTK, Adapters', 503, 264, 'mid');
addText('ERK, Pases', 503, 277, 'mid');
addText('Cell Cycle', 579, 264, 'mid');
addText('Early T. I.', 579, 278, 'mid');
addText('CA', 579, 291, 'mid');
addText('RA', 626, 264, 'mid');
addText('BLR1', 626, 277, 'mid');
addText('MAPK-', 626, 290, 'mid');
addText('Loop', 626, 303, 'mid');
addText('Mid T. I.', 683, 265, 'mid');
addText('Regulated-', 683, 279, 'mid');
addText('Proteins', 683, 292, 'mid');
addText("60s, EIF4's", 728, 288, 'slant');
addText("40s, EIF's", 752, 285, 'slant');

addText('LRC Orthogonal Magnitude', 433, 503, 'up');
addText('Raf', 582, 476);
addText('MEK', 582, 489);
addText('ERK', 582, 503);
addText('RNAp', 468, 551);
addText('CA', 468, 565);
addText('Oct1', 468, 578);
addText('60s', 468, 591);
addText('RXR', 468, 605);
addText('Sos Pase', 717, 561);
addText('Shc', 745, 575);
</script>
</body>
</html>
